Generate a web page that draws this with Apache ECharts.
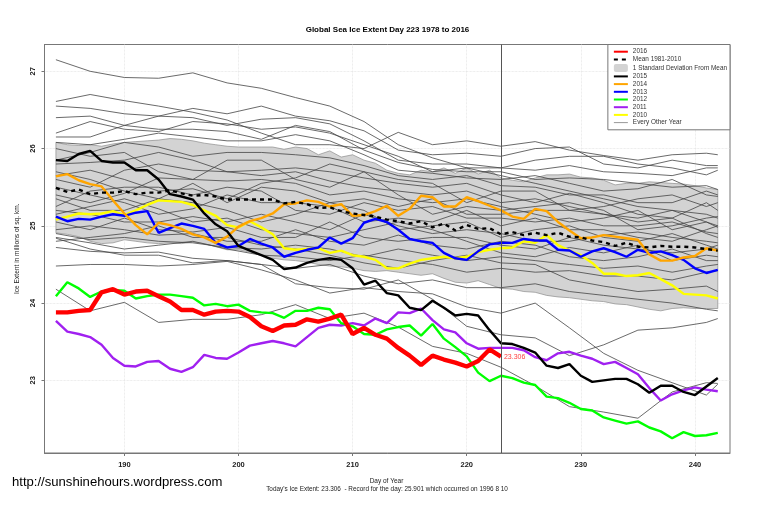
<!DOCTYPE html>
<html style="height: 100%">

<head>
    <meta charset="utf-8">
</head>

<body style="height: 100%; margin: 0; background: #fff">
    <div id="container" style="width: 759px; height: 506px"></div>
    <script src="https://cdn.jsdelivr.net/npm/echarts@6/dist/echarts.min.js"></script>
    <script type="text/javascript">
        var xTicks = [190, 200, 210, 220, 230, 240];
        var yTicks = [23, 24, 25, 26, 27];

        // every day of year on the chart, 184 to 242
        var days = [];
        for (var d = 184; d <= 242; d++) days.push(d);

        var thinDays = [184, 187, 190, 193, 196, 199, 202, 205, 208, 211, 214, 217, 220, 223, 226, 229, 232, 235, 238, 241, 242];

        var y2016 = [23.88, 23.88, 23.90, 23.91, 24.14, 24.18, 24.11, 24.15, 24.16, 24.09,
            24.02, 23.91, 23.91, 23.85, 23.89, 23.90, 23.89, 23.82, 23.70, 23.64,
            23.71, 23.72, 23.79, 23.76, 23.80, 23.85, 23.60, 23.68, 23.59, 23.54,
            23.42, 23.32, 23.20, 23.32, 23.27, 23.23, 23.18, 23.25, 23.40, 23.306];
        var mean = [25.49, 25.44, 25.47, 25.41, 25.43, 25.43, 25.45, 25.41, 25.43, 25.43,
            25.46, 25.42, 25.39, 25.40, 25.38, 25.34, 25.34, 25.34, 25.34, 25.34,
            25.29, 25.31, 25.28, 25.23, 25.24, 25.19, 25.16, 25.14, 25.12, 25.08,
            25.06, 25.03, 25.06, 24.98, 25.03, 24.94, 25.01, 24.96, 24.97, 24.89,
            24.92, 24.88, 24.91, 24.88, 24.91, 24.86, 24.85, 24.81, 24.79, 24.74,
            24.78, 24.73, 24.72, 24.74, 24.73, 24.73, 24.72, 24.70, 24.68];
        var sdUpper = [26.08, 26.05, 26.04, 26.05, 26.03, 26.06, 26.08, 26.09, 26.10, 26.11,
            26.13, 26.12, 26.10, 26.07, 26.05, 26.03, 26.02, 26.02, 26.02, 26.02,
            25.99, 26.02, 26.00, 25.92, 25.97, 25.89, 25.92, 25.85, 25.81, 25.72,
            25.68, 25.66, 25.72, 25.70, 25.75, 25.68, 25.75, 25.67, 25.72, 25.62,
            25.59, 25.57, 25.62, 25.66, 25.66, 25.67, 25.63, 25.62, 25.59, 25.53,
            25.55, 25.55, 25.57, 25.56, 25.55, 25.54, 25.52, 25.49, 25.47];
        var sdLower = [24.91, 24.89, 24.86, 24.80, 24.77, 24.78, 24.82, 24.80, 24.78, 24.77,
            24.78, 24.77, 24.79, 24.77, 24.73, 24.69, 24.69, 24.66, 24.62, 24.58,
            24.56, 24.55, 24.53, 24.50, 24.48, 24.47, 24.45, 24.42, 24.41, 24.42,
            24.40, 24.38, 24.36, 24.38, 24.32, 24.27, 24.26, 24.29, 24.24, 24.19,
            24.18, 24.15, 24.14, 24.10, 24.08, 24.07, 24.05, 24.03, 24.02, 23.99,
            23.98, 23.95, 23.92, 23.90, 23.93, 23.94, 23.93, 23.93, 23.93];
        var y2015 = [25.85, 25.84, 25.93, 25.97, 25.84, 25.82, 25.82, 25.72, 25.72, 25.60,
            25.41, 25.38, 25.34, 25.16, 25.02, 24.93, 24.74, 24.68, 24.62, 24.56,
            24.44, 24.46, 24.52, 24.56, 24.58, 24.56, 24.45, 24.24, 24.29, 24.13,
            24.10, 23.94, 23.91, 24.03, 23.94, 23.84, 23.86, 23.84, 23.65, 23.48,
            23.47, 23.42, 23.36, 23.19, 23.16, 23.21, 23.06, 22.98, 23.00, 23.02,
            23.02, 22.95, 22.84, 22.93, 22.93, 22.85, 22.81, 22.92, 23.03];
        var y2014 = [25.64, 25.67, 25.59, 25.54, 25.51, 25.33, 25.16, 25.01, 24.89, 25.04,
            25.01, 24.96, 24.89, 24.85, 24.78, 24.86, 24.99, 25.06, 25.10, 25.16,
            25.28, 25.29, 25.33, 25.31, 25.25, 25.28, 25.13, 25.14, 25.19, 25.26,
            25.13, 25.22, 25.39, 25.37, 25.25, 25.25, 25.37, 25.32, 25.26, 25.20,
            25.12, 25.09, 25.22, 25.19, 25.05, 24.94, 24.84, 24.85, 24.88, 24.86,
            24.84, 24.82, 24.63, 24.55, 24.55, 24.59, 24.61, 24.71, 24.68];
        var y2013 = [25.12, 25.06, 25.09, 25.08, 25.12, 25.15, 25.13, 25.17, 25.19, 24.91,
            24.97, 25.03, 25.00, 24.96, 24.78, 24.72, 24.74, 24.83, 24.77, 24.72,
            24.60, 24.65, 24.69, 24.72, 24.85, 24.77, 24.84, 25.04, 25.09, 25.05,
            24.95, 24.83, 24.80, 24.78, 24.65, 24.58, 24.56, 24.67, 24.76, 24.78,
            24.78, 24.83, 24.81, 24.81, 24.69, 24.68, 24.60, 24.67, 24.71, 24.66,
            24.60, 24.69, 24.65, 24.67, 24.62, 24.56, 24.45, 24.39, 24.43];
        var y2012 = [24.09, 24.27, 24.19, 24.08, 24.15, 24.17, 24.16, 24.06, 24.09, 24.11,
            24.11, 24.09, 24.07, 23.97, 23.99, 23.96, 23.98, 23.90, 23.88, 23.87,
            23.81, 23.90, 23.90, 23.94, 23.92, 23.74, 23.70, 23.60, 23.59, 23.66,
            23.69, 23.71, 23.58, 23.73, 23.54, 23.43, 23.31, 23.10, 22.99, 23.06,
            23.03, 22.97, 22.94, 22.79, 22.77, 22.71, 22.63, 22.61, 22.52, 22.48,
            22.44, 22.47, 22.39, 22.34, 22.25, 22.33, 22.28, 22.29, 22.32];
        var y2011 = [23.77, 23.63, 23.60, 23.56, 23.46, 23.29, 23.19, 23.18, 23.24, 23.25,
            23.15, 23.11, 23.17, 23.33, 23.29, 23.28, 23.36, 23.45, 23.48, 23.51,
            23.48, 23.44, 23.56, 23.68, 23.72, 23.71, 23.74, 23.71, 23.80, 23.74,
            23.88, 23.87, 23.93, 23.78, 23.66, 23.62, 23.48, 23.41, 23.42, 23.42,
            23.42, 23.39, 23.30, 23.26, 23.35, 23.37, 23.32, 23.28, 23.21, 23.24,
            23.16, 23.08, 22.90, 22.74, 22.82, 22.87, 22.91, 22.88, 22.86];
        var y2010 = [25.08, 25.12, 25.16, 25.15, 25.16, 25.19, 25.14, 25.20, 25.27, 25.33,
            25.32, 25.31, 25.27, 25.20, 25.13, 25.01, 24.98, 25.06, 24.98, 24.89,
            24.71, 24.69, 24.70, 24.71, 24.65, 24.68, 24.62, 24.60, 24.56, 24.45,
            24.45, 24.51, 24.56, 24.58, 24.60, 24.58, 24.60, 24.66, 24.69, 24.71,
            24.72, 24.80, 24.78, 24.88, 24.75, 24.68, 24.62, 24.52, 24.38, 24.38,
            24.35, 24.36, 24.39, 24.31, 24.23, 24.12, 24.11, 24.10, 24.06];

        var thin1 = [27.15, 27.00, 26.92, 26.91, 26.98, 26.85, 26.78, 26.66, 26.55, 26.35, 26.05, 25.88, 25.75, 25.65, 25.55, 25.45, 25.35, 25.25, 25.20, 25.05, 25.00];
        var thin2 = [26.61, 26.70, 26.62, 26.55, 26.47, 26.37, 26.20, 26.05, 26.05, 26.00, 26.21, 26.05, 26.10, 26.03, 26.09, 25.98, 25.91, 25.85, 25.92, 25.94, 25.92];
        var thin3 = [26.55, 26.52, 26.45, 26.42, 26.52, 26.45, 26.55, 26.42, 26.36, 26.23, 25.98, 25.92, 25.94, 25.90, 26.00, 26.02, 25.80, 25.75, 25.85, 25.78, 25.78];
        var thin4 = [26.40, 26.42, 26.30, 26.42, 26.40, 26.30, 26.38, 26.40, 26.32, 26.10, 25.85, 25.80, 25.80, 25.75, 25.85, 25.90, 25.90, 25.80, 25.75, 25.66, 25.72];
        var thin5 = [26.20, 26.35, 26.25, 26.22, 26.35, 26.32, 26.25, 26.28, 26.20, 26.05, 25.90, 25.70, 25.75, 25.75, 25.72, 25.78, 25.70, 25.68, 25.65, 25.75, 25.75];
        var thin6 = [26.15, 26.15, 26.30, 26.25, 26.25, 26.22, 26.12, 26.30, 26.22, 25.98, 25.82, 25.73, 25.70, 25.70, 25.60, 25.62, 25.60, 25.55, 25.50, 25.52, 25.47];
        var thin7 = [26.08, 26.05, 26.12, 26.20, 26.15, 26.10, 26.10, 26.18, 26.10, 25.92, 25.72, 25.68, 25.62, 25.60, 25.65, 25.55, 25.45, 25.48, 25.60, 25.40, 25.38];
        var thin8 = [25.85, 25.95, 26.08, 26.02, 25.90, 25.95, 25.95, 25.92, 25.88, 25.78, 25.65, 25.60, 25.65, 25.52, 25.50, 25.40, 25.40, 25.30, 25.30, 25.45, 25.40];
        var thin9 = [25.80, 25.82, 25.85, 25.95, 25.85, 25.70, 25.72, 25.75, 25.70, 25.62, 25.55, 25.50, 25.55, 25.40, 25.30, 25.42, 25.30, 25.15, 25.10, 25.30, 25.20];
        var thin10 = [25.60, 25.50, 25.72, 25.80, 25.72, 25.70, 25.65, 25.70, 25.58, 25.50, 25.45, 25.40, 25.45, 25.30, 25.35, 25.25, 25.15, 25.10, 25.20, 25.15, 25.10];
        var thin11 = [25.40, 25.30, 25.42, 25.62, 25.60, 25.58, 25.60, 25.55, 25.40, 25.45, 25.35, 25.30, 25.35, 25.25, 25.15, 25.05, 25.10, 25.20, 24.95, 25.05, 24.98];
        var thin12 = [25.25, 25.45, 25.50, 25.50, 25.40, 25.50, 25.45, 25.20, 25.15, 25.30, 25.20, 25.25, 25.10, 25.10, 25.05, 25.10, 25.00, 25.00, 25.05, 24.92, 24.90];
        var thin13 = [25.50, 25.40, 25.30, 25.15, 25.22, 25.40, 25.30, 25.30, 25.25, 25.05, 25.10, 25.05, 25.20, 25.00, 25.10, 24.95, 24.95, 24.85, 24.80, 24.95, 25.00];
        var thin14 = [25.20, 25.15, 25.05, 25.05, 25.12, 25.05, 25.15, 25.05, 24.95, 25.15, 25.00, 24.90, 24.95, 24.90, 24.80, 24.80, 24.88, 24.92, 24.85, 24.80, 24.78];
        var thin15 = [25.05, 24.95, 25.10, 24.95, 24.92, 24.98, 24.85, 24.85, 25.05, 24.85, 24.80, 24.85, 24.85, 24.75, 24.70, 24.85, 24.75, 24.70, 24.65, 24.70, 24.75];
        var thin16 = [24.95, 25.00, 24.95, 24.88, 24.90, 24.80, 24.80, 24.95, 24.80, 24.75, 24.88, 24.75, 24.70, 24.80, 24.75, 24.60, 24.55, 24.60, 24.70, 24.55, 24.55];
        var thin17 = [24.90, 24.82, 24.85, 24.80, 24.78, 24.72, 24.70, 24.75, 24.70, 24.60, 24.70, 24.62, 24.55, 24.60, 24.55, 24.50, 24.45, 24.48, 24.40, 24.48, 24.50];
        var thin18 = [24.85, 24.78, 24.70, 24.75, 24.80, 24.70, 24.62, 24.60, 24.55, 24.62, 24.55, 24.50, 24.40, 24.45, 24.40, 24.42, 24.35, 24.35, 24.30, 24.40, 24.42];
        var thin19 = [24.72, 24.67, 24.65, 24.66, 24.58, 24.55, 24.50, 24.45, 24.50, 24.35, 24.25, 24.30, 24.20, 24.20, 24.25, 24.15, 24.10, 24.05, 24.00, 23.92, 23.90];
        var thin20 = [24.84, 24.70, 24.62, 24.62, 24.52, 24.55, 24.50, 24.25, 24.20, 24.18, 24.30, 24.05, 23.70, 23.59, 23.55, 23.32, 23.46, 23.65, 23.68, 23.75, 23.80];
        var thin21 = [24.48, 24.50, 24.50, 24.48, 24.50, 24.54, 24.43, 24.30, 24.13, 24.20, 24.15, 24.12, 23.95, 23.87, 24.00, 23.68, 23.35, 23.13, 22.97, 22.81, 22.95];
        var thin22 = [24.18, 23.90, 24.01, 23.75, 23.79, 23.79, 23.85, 23.98, 23.80, 23.87, 23.69, 23.44, 23.35, 23.17, 22.93, 22.66, 22.59, 22.51, 22.85, 22.97, 22.96];
        var thin23 = [25.70, 25.60, 25.45, 25.35, 25.55, 25.30, 25.50, 25.45, 25.30, 25.35, 25.25, 25.35, 25.15, 25.15, 25.20, 25.20, 25.15, 25.05, 25.10, 24.90, 24.85];
        var thin24 = [25.35, 25.20, 25.20, 25.35, 25.30, 25.20, 25.05, 25.15, 25.30, 25.20, 24.95, 25.00, 25.05, 24.85, 24.95, 25.00, 24.85, 24.80, 24.90, 24.75, 24.70];
        var thin25 = [25.15, 25.25, 25.35, 25.22, 25.05, 25.10, 24.95, 24.90, 24.85, 24.95, 25.05, 24.95, 24.80, 24.65, 24.60, 24.72, 24.65, 24.75, 24.55, 24.62, 24.60];
        var thin26 = [26.00, 25.90, 25.95, 25.70, 25.60, 25.85, 25.85, 25.60, 25.50, 25.70, 25.60, 25.55, 25.30, 25.45, 25.45, 25.20, 25.25, 25.35, 25.40, 25.25, 25.30];
        var thin27 = [25.65, 25.72, 25.60, 25.45, 25.48, 25.35, 25.55, 25.62, 25.80, 25.70, 25.40, 25.15, 25.25, 25.20, 25.25, 25.30, 25.20, 24.95, 25.00, 25.10, 25.12];
        var thin28 = [24.80, 24.85, 24.90, 25.00, 24.85, 24.85, 24.75, 24.70, 24.62, 24.52, 24.45, 24.55, 24.62, 24.52, 24.50, 24.30, 24.22, 24.15, 24.18, 24.22, 24.15];
        var thinLines = [thin1, thin2, thin3, thin4, thin5, thin6, thin7, thin8, thin9, thin10, thin11,
            thin12, thin13, thin14, thin15, thin16, thin17, thin18, thin19, thin20, thin21, thin22,
            thin23, thin24, thin25, thin26, thin27, thin28];

        function pairs(xs, ys) {
            return ys.map(function (v, i) { return [xs[i], v]; });
        }

        function thick(name, values, color, width) {
            return {
                name: name,
                type: 'line',
                data: pairs(days, values),
                symbol: 'none',
                animation: false,
                lineStyle: { color: color, width: width },
                itemStyle: { color: color }
            };
        }

        // one polygon for the whole band, upper edge then lower edge backwards
        function renderBand(params, api) {
            if (params.dataIndex !== 0) return null;
            var pts = [];
            days.forEach(function (day, i) { pts.push(api.coord([day, sdUpper[i]])); });
            for (var i = days.length - 1; i >= 0; i--) pts.push(api.coord([days[i], sdLower[i]]));
            return {
                type: 'polygon',
                shape: { points: pts },
                style: { fill: '#D3D3D3', stroke: '#8c8c8c', lineWidth: 0.7 }
            };
        }

        var series = [];
        series.push({
            name: '1 Standard Deviation From Mean', type: 'custom', renderItem: renderBand, animation: false,
            data: days.map(function (day, i) { return [day, sdLower[i], sdUpper[i]]; }),
            encode: { x: 0, y: [1, 2] },
            itemStyle: { color: '#D3D3D3' },
            z: 1
        });
        thinLines.forEach(function (vals) {
            series.push({
                name: 'Every Other Year', type: 'line', symbol: 'none', animation: false,
                data: pairs(thinDays, vals),
                lineStyle: { color: '#444', width: 0.8 },
                itemStyle: { color: '#999' }
            });
        });
        series.push(thick('2010', y2010, '#FFFF00', 2.4));
        series.push(thick('2011', y2011, '#A020F0', 2.4));
        series.push(thick('2012', y2012, '#00FF00', 2.4));
        series.push(thick('2013', y2013, '#0000FF', 2.4));
        series.push(thick('2014', y2014, '#FFA500', 2.4));
        series.push(thick('2015', y2015, '#000000', 2.4));
        var meanSeries = thick('Mean 1981-2010', mean, '#000000', 2.4);
        meanSeries.lineStyle.type = [4, 4];
        series.push(meanSeries);
        var s2016 = thick('2016', y2016, '#FF0000', 4.4);
        s2016.endLabel = { show: true, formatter: '23.306', color: '#FF4040', fontSize: 7, distance: 3, fontFamily: 'Liberation Sans' };
        s2016.markLine = {
            silent: true, symbol: 'none', animation: false, label: { show: false },
            lineStyle: { color: '#555', width: 1, type: 'solid' },
            data: [{ xAxis: 223 }]
        };
        series.push(s2016);

        var myChart = echarts.init(document.getElementById('container'));
        var textFont = 'Liberation Sans';
        myChart.setOption({
            animation: false,
            backgroundColor: '#fff',
            title: [
                { text: 'Global Sea Ice Extent Day 223 1978 to 2016', left: 382.5, top: 21, textAlign: 'center', textStyle: { fontSize: 8, fontWeight: 'bold', color: '#000', fontFamily: textFont } },
                { text: 'Day of Year', left: 381.5, top: 473, textAlign: 'center', textStyle: { fontSize: 6.5, fontWeight: 'normal', color: '#222', fontFamily: textFont } },
                { text: "Today's Ice Extent: 23.306  - Record for the day: 25.901 which occurred on 1996 8 10", left: 382, top: 481, textAlign: 'center', textStyle: { fontSize: 6.4, fontWeight: 'normal', color: '#222', fontFamily: textFont } },
                { text: 'http://sunshinehours.wordpress.com', left: 7, top: 471, textStyle: { fontSize: 13.1, fontWeight: 'normal', color: '#000', fontFamily: textFont } }
            ],
            grid: { left: 44.5, right: 29, top: 44.5, bottom: 53, show: true, borderColor: '#777', borderWidth: 1, backgroundColor: '#fff' },
            legend: {
                right: 29, top: 44.5, orient: 'vertical', align: 'left',
                padding: [4, 3, 4, 5], itemGap: 1.3, itemWidth: 14, itemHeight: 8,
                itemStyle: { opacity: 0 },   // line only, no dot on the key
                backgroundColor: '#fff', borderColor: '#777', borderWidth: 1, borderRadius: 0,
                textStyle: { fontSize: 6.4, color: '#333', fontFamily: textFont },
                data: ['2016', 'Mean 1981-2010',
                    { name: '1 Standard Deviation From Mean', icon: 'roundRect', itemStyle: { opacity: 1, color: '#D3D3D3' } },
                    '2015', '2014', '2013', '2012', '2011', '2010',
                    { name: 'Every Other Year', lineStyle: { color: '#999', width: 1 } }]
            },
            xAxis: {
                type: 'value', min: 183, max: 243.07,
                axisLine: { show: true, onZero: false, lineStyle: { color: '#777' } },
                axisTick: { show: true, length: 3, customValues: xTicks, lineStyle: { color: '#777' } },
                axisLabel: { customValues: xTicks, fontSize: 7.5, fontWeight: 'bold', color: '#222', margin: 8, fontFamily: textFont },
                splitLine: { show: true, lineStyle: { color: '#ddd', width: 0.7, type: 'dotted' } }
            },
            yAxis: {
                type: 'value', min: 22.06, max: 27.347,
                name: 'Ice Extent in millions of sq. km.', nameLocation: 'middle', nameGap: 20,
                nameTextStyle: { fontSize: 6.6, color: '#222', fontFamily: textFont },
                axisLine: { show: true, lineStyle: { color: '#777' } },
                axisTick: { show: true, length: 3, customValues: yTicks, lineStyle: { color: '#777' } },
                axisLabel: { customValues: yTicks, rotate: 90, fontSize: 7.5, fontWeight: 'bold', color: '#222', margin: 8, fontFamily: textFont },
                splitLine: { show: true, lineStyle: { color: '#ddd', width: 0.7, type: 'dotted' } }
            },
            series: series
        });
    </script>
</body>

</html>
